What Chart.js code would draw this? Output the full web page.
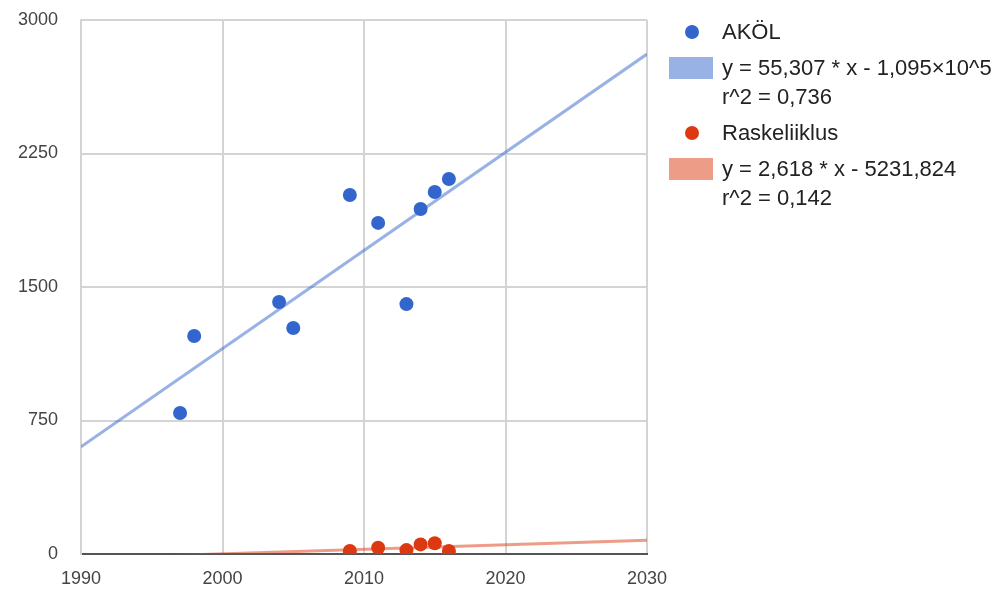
<!DOCTYPE html>
<html>
<head>
<meta charset="utf-8">
<script src="https://cdn.jsdelivr.net/npm/chart.js@4.4.1/dist/chart.umd.min.js"></script>
<style>
  body { margin: 0; background: #fff; font-family: "Liberation Sans", Arial, sans-serif; }
  #wrap { position: relative; width: 995px; height: 590px; }
  #legend { position: absolute; left: 0; top: 0; width: 995px; height: 590px; pointer-events: none; }
  #legend .t { position: absolute; left: 722px; font-size: 22px; color: #222; line-height: 1; white-space: nowrap; transform: translateY(-50%); }
  #legend .dot { position: absolute; width: 14px; height: 14px; border-radius: 50%; left: 685px; transform: translateY(-50%); }
  #legend .sw { position: absolute; left: 669px; width: 44px; height: 22px; }
</style>
</head>
<body>
<div id="wrap">
  <canvas id="myChart"></canvas>
  <div id="legend"></div>
</div>
<script>
// data
const akolYears = [1997, 1998, 2004, 2005, 2009, 2011, 2013, 2014, 2015, 2016]
const akolValues = [792, 1225, 1416, 1270, 2017, 1860, 1404, 1938, 2034, 2107]
const raskYears = [2009, 2011, 2013, 2014, 2015, 2016]
const raskValues = [17, 35, 22, 54, 60, 17]

const seriesNames = ['AKÖL', 'Raskeliiklus']
const trendTexts = [
  ['y = 55,307 * x - 1,095×10^5', 'r^2 = 0,736'],
  ['y = 2,618 * x - 5231,824', 'r^2 = 0,142']
]
const xTicks = [1990, 2000, 2010, 2020, 2030]
const yTicks = [0, 750, 1500, 2250, 3000]

const blue = '#3366cc'
const red = '#dc3912'
const blueTrend = 'rgba(51,102,204,0.5)'
const redTrend = 'rgba(220,57,18,0.5)'

// least squares line over the axis range
function trend (xs, ys) {
  const n = xs.length
  const mx = xs.reduce((a, b) => a + b, 0) / n
  const my = ys.reduce((a, b) => a + b, 0) / n
  let sxy = 0
  let sxx = 0
  xs.forEach((x, i) => {
    sxy += (x - mx) * (ys[i] - my)
    sxx += (x - mx) * (x - mx)
  })
  const m = sxy / sxx
  const b = my - m * mx
  const x0 = xTicks[0]
  const x1 = xTicks[xTicks.length - 1]
  return [{ x: x0, y: m * x0 + b }, { x: x1, y: m * x1 + b }]
}

const pts = (xs, ys) => xs.map((x, i) => ({ x: x, y: ys[i] }))
const tickFont = { family: '"Liberation Sans", Arial, sans-serif', size: 18 }

const ctx = document.getElementById('myChart')
const myChart = new Chart(ctx, {
  type: 'scatter',
  data: {
    datasets: [{
      label: seriesNames[0],
      data: pts(akolYears, akolValues),
      backgroundColor: blue,
      borderWidth: 0,
      pointRadius: 7,
      order: 0
    }, {
      label: seriesNames[1],
      data: pts(raskYears, raskValues),
      backgroundColor: red,
      borderWidth: 0,
      pointRadius: 7,
      order: 0
    }, {
      type: 'line',
      data: trend(akolYears, akolValues),
      borderColor: blueTrend,
      borderWidth: 3,
      pointRadius: 0,
      order: 1
    }, {
      type: 'line',
      data: trend(raskYears, raskValues),
      borderColor: redTrend,
      borderWidth: 3,
      pointRadius: 0,
      order: 1
    }]
  },
  options: {
    responsive: true,
    maintainAspectRatio: false,
    animation: false,
    events: [],
    layout: { padding: { left: 0, right: 348, top: 20, bottom: 0 } },
    plugins: {
      legend: { display: false },
      tooltip: { enabled: false }
    },
    scales: {
      x: {
        type: 'linear',
        min: xTicks[0],
        max: xTicks[xTicks.length - 1],
        afterBuildTicks: (s) => { s.ticks = xTicks.map(v => ({ value: v })) },
        afterFit: (s) => { s.height = 36 },
        grid: { color: '#d4d4d4', lineWidth: 2, drawTicks: false },
        border: { color: '#555555', width: 2 },
        ticks: { color: '#444', padding: 14, font: tickFont, callback: (v) => String(v) }
      },
      y: {
        min: yTicks[0],
        max: yTicks[yTicks.length - 1],
        afterBuildTicks: (s) => { s.ticks = yTicks.map(v => ({ value: v })) },
        afterFit: (s) => {
          s.width = 81
          s.paddingTop = 0
          s.paddingBottom = 0
        },
        grid: { color: '#d4d4d4', lineWidth: 2, drawTicks: false },
        border: { color: '#d4d4d4', width: 2 },
        ticks: { color: '#444', padding: 23, font: tickFont, callback: (v) => String(v) }
      }
    }
  }
})

// legend on the right
const legend = document.getElementById('legend')
const legendRows = [
  { name: seriesNames[0], color: blue, swatch: blueTrend, lines: trendTexts[0], y: 32 },
  { name: seriesNames[1], color: red, swatch: redTrend, lines: trendTexts[1], y: 133 }
]
legendRows.forEach(r => {
  legend.insertAdjacentHTML('beforeend',
    '<div class="dot" style="top:' + r.y + 'px;background:' + r.color + '"></div>' +
    '<div class="t" style="top:' + r.y + 'px">' + r.name + '</div>' +
    '<div class="sw" style="top:' + (r.y + 25) + 'px;background:' + r.swatch + '"></div>' +
    '<div class="t" style="top:' + (r.y + 36) + 'px">' + r.lines[0] + '</div>' +
    '<div class="t" style="top:' + (r.y + 65) + 'px">' + r.lines[1] + '</div>')
})
</script>
</body>
</html>
